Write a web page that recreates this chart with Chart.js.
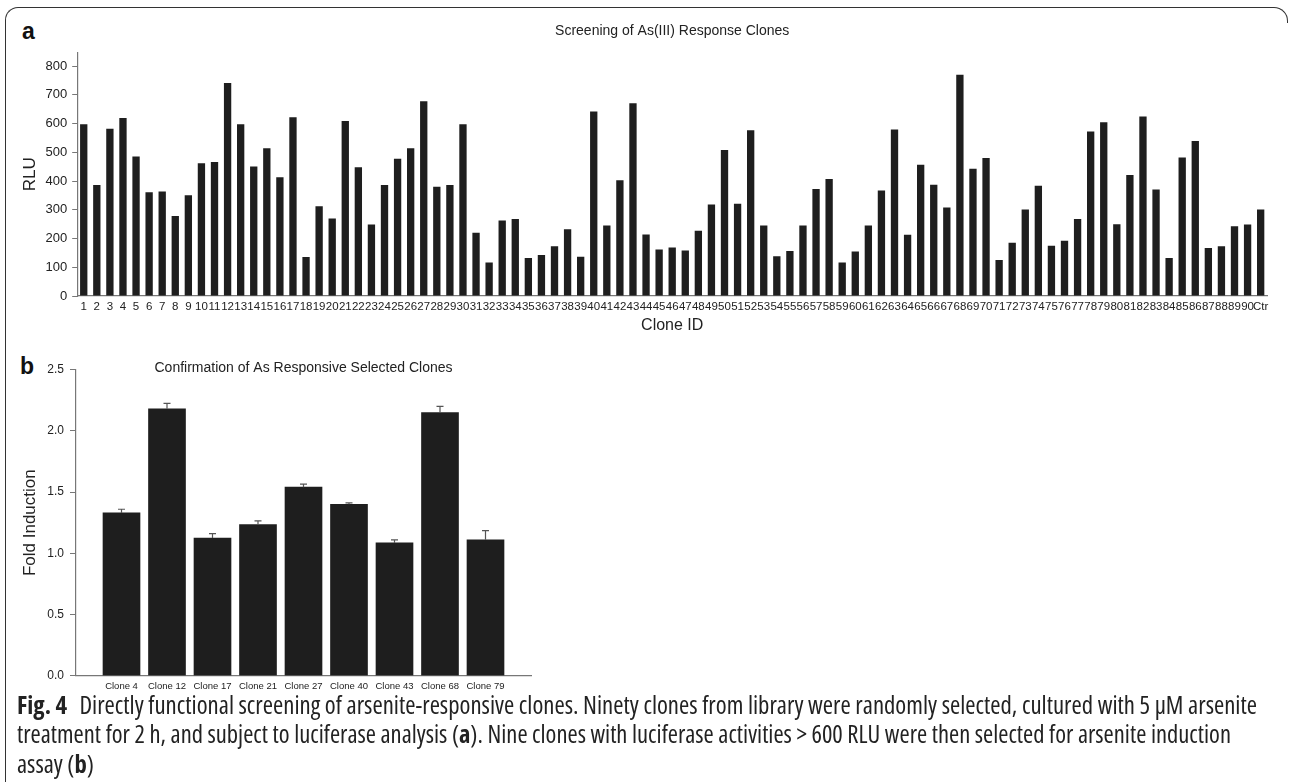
<!DOCTYPE html>
<html>
<head>
<meta charset="utf-8">
<script src="https://cdn.jsdelivr.net/npm/chart.js@4.4.1/dist/chart.umd.min.js"></script>
<style>
  html, body { margin: 0; padding: 0; background: #fff; }
  body { width: 1290px; height: 782px; position: relative; overflow: hidden; font-family: "Liberation Sans", Arial, sans-serif; }
  #frame { position: absolute; left: 5px; top: 7px; width: 1266px; height: 800px; border-top: 1.3px solid #333; border-left: 1.3px solid #333; border-top-left-radius: 13px; }
  #corner { position: absolute; left: 1270px; top: 7px; width: 17px; height: 15px; border-top: 1.3px solid #333; border-right: 1.3px solid #333; border-top-right-radius: 14px; }
  .panel { position: absolute; font-weight: bold; font-size: 23px; color: #111; line-height: 1; }
  #wrapA { position: absolute; left: 0; top: 0; }
  #wrapB { position: absolute; left: 0; top: 345px; }
  .cap { position: absolute; left: 17px; font-family: "Open Sans", "Noto Sans", sans-serif; font-stretch: 80%; font-size: 18.5px; line-height: 24px; height: 24px; color: #222; white-space: nowrap; transform-origin: left center; }
</style>
</head>
<body>
<div id="frame"></div>
<div id="corner"></div>
<div class="panel" style="left:22px; top:20px;">a</div>
<div class="panel" style="left:20px; top:355px;">b</div>
<div id="wrapA"><canvas id="chartA" width="1290" height="345"></canvas></div>
<div id="wrapB"><canvas id="chartB" width="560" height="355"></canvas></div>
<div class="cap" id="cap1" style="top:693px;"><b>Fig. 4</b>&ensp;Directly functional screening of arsenite-responsive clones. Ninety clones from library were randomly selected, cultured with 5 μM arsenite</div>
<div class="cap" id="cap2" style="top:722px;">treatment for 2 h, and subject to luciferase analysis (<b>a</b>). Nine clones with luciferase activities &gt; 600 RLU were then selected for arsenite induction</div>
<div class="cap" id="cap3" style="top:752px;">assay (<b>b</b>)</div>
<script>
// panel a: screening of 90 clones + control
var cloneIds = ['1','2','3','4','5','6','7','8','9','10','11','12','13','14','15','16','17','18','19','20',
  '21','22','23','24','25','26','27','28','29','30','31','32','33','34','35','36','37','38','39','40',
  '41','42','43','44','45','46','47','48','49','50','51','52','53','54','55','56','57','58','59','60',
  '61','62','63','64','65','66','67','68','69','70','71','72','73','74','75','76','77','78','79','80',
  '81','82','83','84','85','86','87','88','89','90','Ctr'];
var rlu = [598, 386, 582, 619, 485, 361, 364, 278, 351, 462,
  466, 741, 598, 451, 514, 413, 622, 136, 312, 270,
  609, 448, 249, 386, 478, 514, 678, 380, 386, 598,
  220, 117, 263, 268, 132, 143, 173, 232, 137, 642,
  245, 403, 671, 214, 162, 169, 158, 227, 318, 508,
  321, 577, 245, 138, 157, 245, 372, 407, 117, 155,
  245, 367, 579, 213, 457, 387, 308, 770, 443, 480,
  125, 185, 301, 384, 175, 192, 268, 572, 605, 250,
  421, 625, 371, 132, 482, 539, 167, 173, 243, 249,
  301];
var rluTicks = [0, 100, 200, 300, 400, 500, 600, 700, 800];

// panel b: selected clones
var cloneNames = ['Clone 4', 'Clone 12', 'Clone 17', 'Clone 21', 'Clone 27', 'Clone 40', 'Clone 43', 'Clone 68', 'Clone 79'];
var foldInduction = [1.33, 2.18, 1.125, 1.235, 1.54, 1.40, 1.085, 2.15, 1.11];
var foldErr = [0.03, 0.045, 0.035, 0.03, 0.025, 0.012, 0.025, 0.05, 0.075];
var foldTicks = [0, 0.5, 1.0, 1.5, 2.0, 2.5];

Chart.defaults.font.family = '"Liberation Sans", Arial, sans-serif';
Chart.defaults.color = '#222';

var barColor = '#1e1e1e';
var axisColor = '#777';

new Chart(document.getElementById('chartA'), {
  type: 'bar',
  data: {
    labels: cloneIds,
    datasets: [{ data: rlu, backgroundColor: barColor, categoryPercentage: 1, barPercentage: 0.56 }]
  },
  options: {
    responsive: false,
    animation: false,
    layout: { padding: { top: 22.3, left: 0, right: 22.8, bottom: 4 } },
    plugins: {
      legend: { display: false },
      tooltip: { enabled: false },
      title: {
        display: true, fullSize: false,
        text: 'Screening of As(III) Response Clones',
        font: { size: 14, weight: 'normal' },
        padding: { top: 0, bottom: 13.2 }
      }
    },
    scales: {
      x: {
        grid: { display: false, drawTicks: false },
        border: { color: axisColor, width: 1.2 },
        ticks: { autoSkip: false, maxRotation: 0, minRotation: 0, padding: 4, font: { size: 11.5 } },
        title: { display: true, text: 'Clone ID', font: { size: 16 }, padding: { top: 0, bottom: 5.4 } },
        afterFit: function (s) { s.height = 45; }
      },
      y: {
        min: 0, max: 848,
        grid: { drawOnChartArea: false, tickLength: 5, color: axisColor },
        border: { color: axisColor, width: 1.2 },
        ticks: { padding: 5, font: { size: 13 } },
        afterBuildTicks: function (s) { s.ticks = rluTicks.map(function (v) { return { value: v }; }); },
        title: { display: true, text: 'RLU', font: { size: 17 }, padding: { top: 19.8, bottom: 0 } },
        afterFit: function (s) { s.width = 77.2; }
      }
    }
  }
});

var errorBars = {
  id: 'errorBars',
  afterDatasetsDraw: function (chart) {
    var meta = chart.getDatasetMeta(0);
    var y = chart.scales.y;
    var ctx = chart.ctx;
    ctx.save();
    ctx.strokeStyle = '#555';
    ctx.lineWidth = 1.2;
    meta.data.forEach(function (bar, i) {
      var top = y.getPixelForValue(foldInduction[i] + foldErr[i]);
      ctx.beginPath();
      ctx.moveTo(bar.x, bar.y);
      ctx.lineTo(bar.x, top);
      ctx.moveTo(bar.x - 3.5, top);
      ctx.lineTo(bar.x + 3.5, top);
      ctx.stroke();
    });
    ctx.restore();
  }
};

new Chart(document.getElementById('chartB'), {
  type: 'bar',
  data: {
    datasets: [{
      data: foldInduction.map(function (v, i) { return { x: i + 1, y: v }; }),
      backgroundColor: barColor,
      barThickness: 37
    }]
  },
  options: {
    responsive: false,
    animation: false,
    layout: { padding: { top: 15.1, left: 0, right: 29, bottom: 0 } },
    plugins: {
      legend: { display: false },
      tooltip: { enabled: false },
      title: {
        display: true, fullSize: false,
        text: 'Confirmation of As Responsive Selected Clones',
        font: { size: 14, weight: 'normal' },
        padding: { top: 0, bottom: -7.2 }
      }
    },
    scales: {
      x: {
        type: 'linear', min: 0, max: 10, offset: false,
        grid: { display: false, drawTicks: false, offset: false },
        border: { color: axisColor, width: 1.2 },
        ticks: {
          padding: 5, font: { size: 9.5 }, maxRotation: 0, autoSkip: false,
          callback: function (v) { return cloneNames[v - 1] || ''; }
        },
        afterBuildTicks: function (s) { s.ticks = cloneNames.map(function (n, i) { return { value: i + 1 }; }); },
        afterFit: function (s) { s.height = 24.3; }
      },
      y: {
        min: 0, max: 2.5,
        grid: { drawOnChartArea: false, tickLength: 6, color: axisColor },
        border: { color: axisColor, width: 1.2 },
        ticks: { padding: 6, font: { size: 12 }, callback: function (v) { return v.toFixed(1); } },
        afterBuildTicks: function (s) { s.ticks = foldTicks.map(function (v) { return { value: v }; }); },
        title: { display: true, text: 'Fold Induction', font: { size: 17 }, padding: { top: 19.8, bottom: 0 } },
        afterFit: function (s) { s.width = 76; }
      }
    }
  },
  plugins: [errorBars]
});

// size the condensed caption font so its lines reach the widths they have in the figure
var capTargets = [['cap1', 1240], ['cap2', 1214]];
var baseSize = 18.5;
var fitSizes = capTargets.map(function (p) {
  return baseSize * p[1] / document.getElementById(p[0]).getBoundingClientRect().width;
});
var capSize = (fitSizes[0] + fitSizes[1]) / 2;
['cap1', 'cap2', 'cap3'].forEach(function (id) {
  document.getElementById(id).style.fontSize = capSize + 'px';
});
capTargets.forEach(function (p) {
  var el = document.getElementById(p[0]);
  el.style.transform = 'scaleX(' + (p[1] / el.getBoundingClientRect().width) + ')';
});
</script>
</body>
</html>
